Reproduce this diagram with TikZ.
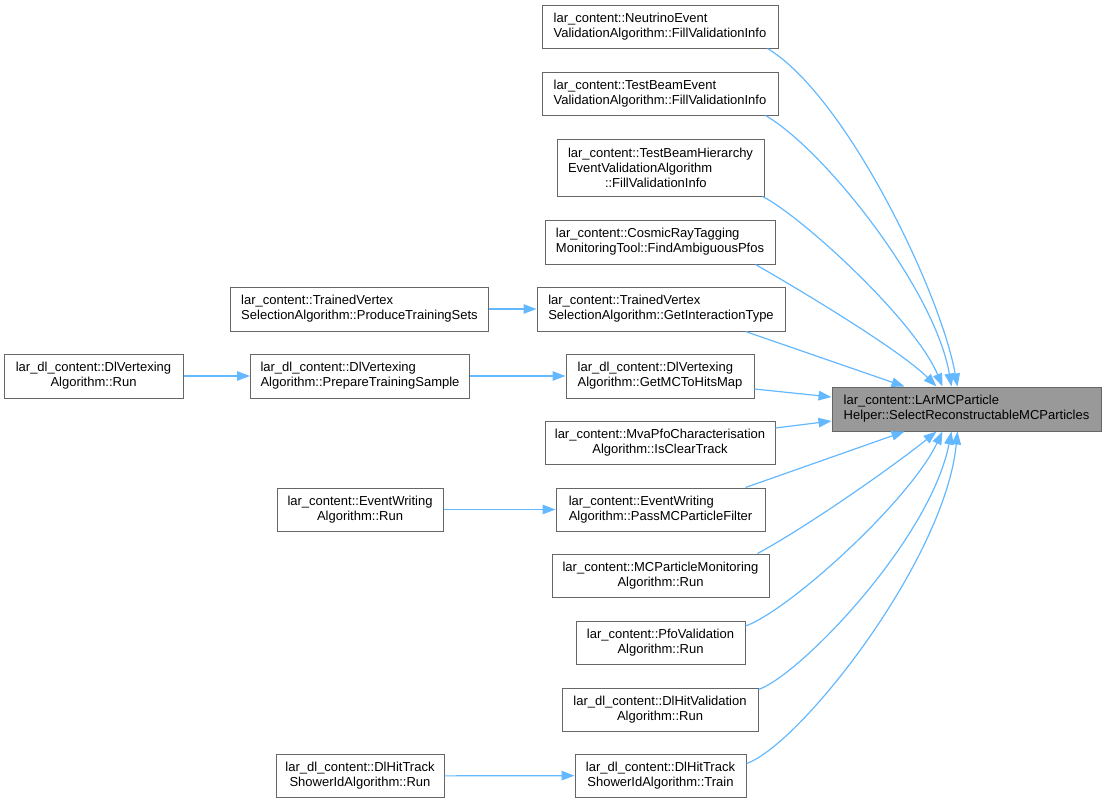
\documentclass[tikz,border=0pt]{standalone}
\usepackage{fontspec}
\setmainfont{Liberation Sans}
\usetikzlibrary{arrows.meta,calc}
\definecolor{edgecol}{HTML}{63B8FF}
\definecolor{boxborder}{HTML}{666666}
\definecolor{tgtfill}{HTML}{999999}
\tikzset{
  box/.style={draw=boxborder, fill=white, line width=1pt, inner sep=0pt,
    font=\fontsize{13}{15}\selectfont, minimum height=43pt},
  lbox/.style={box, align=left},
  cbox/.style={box, align=center},
  tgtbox/.style={box, fill=tgtfill, align=left},
  edge/.style={draw=edgecol, line width=1.2pt, -{Triangle[length=13pt,width=9.5pt]}}
}
\begin{document}
\begin{tikzpicture}[x=1pt,y=-1pt]
\useasboundingbox (0,0) rectangle (1106,803);
% target
\node[tgtbox, minimum width=269pt, minimum height=44pt] (tgt) at (966.5,409) {lar\_content::LArMCParticle\\Helper::SelectReconstructableMCParticles};
% middle column
\node[lbox, minimum width=236pt] (neutrino) at (660,26.5) {lar\_content::NeutrinoEvent\\ValidationAlgorithm::FillValidationInfo};
\node[lbox, minimum width=236pt] (testbeam) at (660,93.5) {lar\_content::TestBeamEvent\\ValidationAlgorithm::FillValidationInfo};
\node[lbox, minimum width=207pt, minimum height=57pt] (hier) at (660.5,167.5) {lar\_content::TestBeamHierarchy\\EventValidationAlgorithm\\\hspace*{37pt}::FillValidationInfo};
\node[lbox, minimum width=230pt, minimum height=44pt] (cosmic) at (660,242) {lar\_content::CosmicRayTagging\\MonitoringTool::FindAmbiguousPfos};
\node[lbox, minimum width=248pt, minimum height=44pt] (inter) at (661,309) {lar\_content::TrainedVertex\\SelectionAlgorithm::GetInteractionType};
\node[lbox, minimum width=188pt, minimum height=44pt] (mctohits) at (660,376) {lar\_dl\_content::DlVertexing\\Algorithm::GetMCToHitsMap};
\node[cbox, minimum width=230pt] (mvapfo) at (660,442.5) {lar\_content::MvaPfoCharacterisation\\Algorithm::IsClearTrack};
\node[lbox, minimum width=209pt] (passmc) at (660.5,509.5) {lar\_content::EventWriting\\Algorithm::PassMCParticleFilter};
\node[cbox, minimum width=217pt] (mcpmon) at (660.5,575.5) {lar\_content::MCParticleMonitoring\\Algorithm::Run};
\node[cbox, minimum width=169pt] (pfoval) at (660.5,642.5) {lar\_content::PfoValidation\\Algorithm::Run};
\node[cbox, minimum width=196pt] (dlhitval) at (660,709.5) {lar\_dl\_content::DlHitValidation\\Algorithm::Run};
\node[cbox, minimum width=171pt] (train) at (660.5,775.5) {lar\_dl\_content::DlHitTrack\\ShowerIdAlgorithm::Train};
% left columns
\node[lbox, minimum width=258pt, minimum height=44pt] (produce) at (359.5,309) {lar\_content::TrainedVertex\\SelectionAlgorithm::ProduceTrainingSets};
\node[cbox, minimum width=179pt, minimum height=44pt] (dlvrun) at (93.5,376) {lar\_dl\_content::DlVertexing\\Algorithm::Run};
\node[lbox, minimum width=219pt, minimum height=44pt] (prepare) at (360,376) {lar\_dl\_content::DlVertexing\\Algorithm::PrepareTrainingSample};
\node[cbox, minimum width=166pt] (ewrun) at (360,509.5) {lar\_content::EventWriting\\Algorithm::Run};
\node[cbox, minimum width=168pt] (showerrun) at (360,776) {lar\_dl\_content::DlHitTrack\\ShowerIdAlgorithm::Run};
% horizontal edges
\draw[edge] (produce) -- (inter);
\draw[edge] (dlvrun) -- (prepare);
\draw[edge] (prepare) -- (mctohits);
\draw[edge] (ewrun) -- (passmc);
\draw[edge] (showerrun) -- (train);
% edges into target from above
\draw[edge] ([xshift=-11pt]neutrino.south east) .. controls (845,95) and (940,290) .. ([xshift=126pt]tgt.north west);
\draw[edge] ([xshift=-13pt]testbeam.south east) .. controls (825,150) and (935,290) .. ([xshift=120pt]tgt.north west);
\draw[edge] ([xshift=-2pt]hier.south east) .. controls (800,215) and (915,320) .. ([xshift=111pt]tgt.north west);
\draw[edge] ([xshift=-20pt]cosmic.south east) .. controls (800,290) and (900,350) .. ([xshift=105pt]tgt.north west);
\draw[edge] ([xshift=-40pt]inter.south east) -- ([xshift=73pt]tgt.north west);
% side edges
\draw[edge] ([yshift=-13pt]mctohits.east) -- ([yshift=12pt]tgt.west);
\draw[edge] ([yshift=14.5pt]mvapfo.east) -- ([yshift=-12pt]tgt.west);
% edges into target from below
\draw[edge] ([xshift=-20pt]passmc.north east) -- ([xshift=73pt]tgt.south west);
\draw[edge] ([xshift=-12pt]mcpmon.north east) .. controls (810,525) and (895,465) .. ([xshift=105pt]tgt.south west);
\draw[edge] ([yshift=16.5pt]pfoval.east) .. controls (790,610) and (910,500) .. ([xshift=111pt]tgt.south west);
\draw[edge] ([yshift=20pt]dlhitval.east) .. controls (800,675) and (930,540) .. ([xshift=120pt]tgt.south west);
\draw[edge] ([yshift=12pt]train.east) .. controls (800,745) and (945,560) .. ([xshift=126pt]tgt.south west);
\end{tikzpicture}
\end{document}
